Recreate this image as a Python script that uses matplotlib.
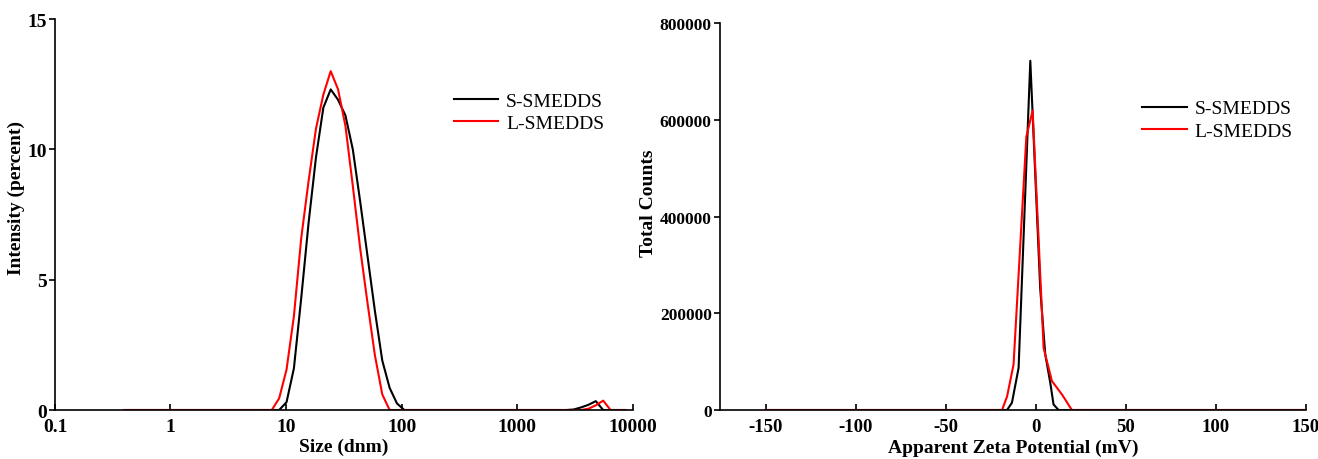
import matplotlib
matplotlib.use("Agg")
import matplotlib.pyplot as plt

plt.rcParams['font.family'] = ['Liberation Serif', 'DejaVu Serif']
plt.rcParams['axes.unicode_minus'] = False

# size distribution (DLS bins, dnm)
sizes = [0.4, 0.4632, 0.5365, 0.6213, 0.7195, 0.8332, 0.9649, 1.117, 1.294, 1.499,
         1.736, 2.01, 2.328, 2.696, 3.122, 3.615, 4.187, 4.849, 5.615, 6.503,
         7.531, 8.721, 10.10, 11.70, 13.54, 15.69, 18.17, 21.04, 24.36, 28.21,
         32.67, 37.84, 43.82, 50.75, 58.77, 68.06, 78.82, 91.28, 105.7, 122.4,
         141.8, 164.2, 190.1, 220.2, 255.0, 295.3, 342.0, 396.1, 458.7, 531.2,
         615.1, 712.4, 825.0, 955.4, 1106, 1281, 1484, 1718, 1990, 2305,
         2669, 3091, 3580, 4145, 4801, 5560, 6439, 7456, 8635]
s_intensity = [0] * 22 + [0.3, 1.6, 4.3, 7.2, 9.7, 11.6, 12.3, 11.9,
               11.3, 10.0, 8.0, 5.9, 3.8, 1.9, 0.85, 0.25] + [0] * 23 + \
              [0.02, 0.1, 0.2, 0.34, 0, 0, 0, 0]
l_intensity = [0] * 21 + [0.45, 1.55, 3.6, 6.6, 8.8, 10.8, 12.1, 13.0, 12.3,
               10.9, 8.6, 6.2, 4.1, 2.1, 0.6] + [0] * 27 + \
              [0.05, 0.18, 0.36, 0, 0, 0]

# zeta potential distribution
s_zeta = [-150, -16.0, -13.3, -9.6, -3.1, 2.4, 5.2, 8.0, 9.8, 12.6, 150]
s_counts = [0, 0, 15000, 87000, 722000, 251000, 115000, 56000, 11500, 0, 0]
l_zeta = [-150, -18.8, -16.0, -12.4, -5.3, -1.8, 4.3, 8.9, 14.5, 20.0, 150]
l_counts = [0, 0, 28000, 94000, 565000, 619000, 128000, 60000, 32000, 0, 0]

labels = ['S-SMEDDS', 'L-SMEDDS']
colors = ['black', 'red']

fig = plt.figure(figsize=(13.18, 4.6), dpi=100)
ax1 = fig.add_axes([0.0417, 0.1065, 0.4383, 0.85])
ax2 = fig.add_axes([0.5463, 0.1065, 0.4446, 0.8413])

ax1.plot(sizes, s_intensity, color=colors[0], lw=1.5, label=labels[0])
ax1.plot(sizes, l_intensity, color=colors[1], lw=1.5, label=labels[1])
ax1.set_xscale('log')
ax1.set_xlim(0.1, 10000)
ax1.set_ylim(0, 15)
ax1.set_xticks([0.1, 1, 10, 100, 1000, 10000])
ax1.set_xticklabels(['0.1', '1', '10', '100', '1000', '10000'])
ax1.minorticks_off()
ax1.set_yticks([0, 5, 10, 15])
ax1.set_xlabel('Size (dnm)', fontsize=14, fontweight='bold')
ax1.set_ylabel('Intensity (percent)', fontsize=14, fontweight='bold')
ax1.xaxis.set_label_coords(0.5, -0.072)
ax1.yaxis.set_label_coords(-0.052, 0.545)
ax1.legend(loc='upper left', bbox_to_anchor=(0.66, 0.858), frameon=False,
           fontsize=14, handlelength=2.3, handletextpad=0.4, labelspacing=0.25)

ax2.plot(s_zeta, s_counts, color=colors[0], lw=1.5, label=labels[0])
ax2.plot(l_zeta, l_counts, color=colors[1], lw=1.5, label=labels[1])
ax2.set_xlim(-175.4, 150)
ax2.set_ylim(0, 800000)
ax2.set_xticks([-150, -100, -50, 0, 50, 100, 150])
ax2.set_yticks([0, 200000, 400000, 600000, 800000])
ax2.set_xlabel('Apparent Zeta Potential (mV)', fontsize=14, fontweight='bold')
ax2.set_ylabel('Total Counts', fontsize=14, fontweight='bold')
ax2.xaxis.set_label_coords(0.5, -0.075)
ax2.yaxis.set_label_coords(-0.1075, 0.537)
ax2.legend(loc='upper left', bbox_to_anchor=(0.69, 0.847), frameon=False,
           fontsize=14, handlelength=2.3, handletextpad=0.4, labelspacing=0.25)

for ax, xs, ys in ((ax1, 14, 14), (ax2, 13.5, 12.5)):
    ax.spines['top'].set_visible(False)
    ax.spines['right'].set_visible(False)
    ax.spines['left'].set_linewidth(1.2)
    ax.spines['bottom'].set_linewidth(1.2)
    ax.tick_params(axis='x', direction='in', length=4, width=1.2, labelsize=xs, pad=6)
    ax.tick_params(axis='y', direction='out', length=4, width=1.2, labelsize=ys, pad=2)
    for t in ax.get_xticklabels() + ax.get_yticklabels():
        t.set_fontweight('bold')

fig.savefig('out.png', dpi=100)
